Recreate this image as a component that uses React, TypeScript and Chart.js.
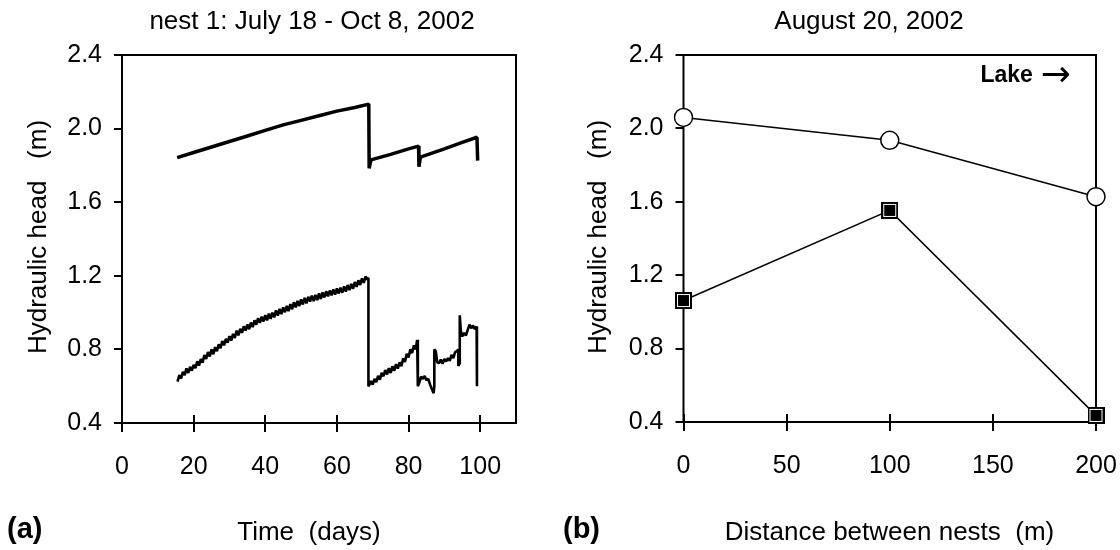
import React, { useEffect, useRef } from "react";
import { Chart, registerables } from "chart.js";

Chart.register(...registerables);

// ---------- Panel (a): nest 1 time series ----------
const xTicksA = [0, 20, 40, 60, 80, 100];
const yTicks = [0.4, 0.8, 1.2, 1.6, 2.0, 2.4];
const yTickLabels = ["0.4", "0.8", "1.2", "1.6", "2.0", "2.4"];

const upperDays = [15.4, 20, 25, 30, 35, 40, 45, 50, 55, 60, 65, 68.9, 69.0, 69.5, 75, 80, 82.8, 82.9, 83.3, 90, 95, 99.1, 99.3];
const upperHead = [1.842, 1.87, 1.9, 1.93, 1.96, 1.99, 2.02, 2.045, 2.07, 2.095, 2.115, 2.133, 1.784, 1.83, 1.86, 1.89, 1.905, 1.793, 1.845, 1.89, 1.925, 1.953, 1.826];

const lowerDays = [
  15.5, 16, 16.5, 17, 17.5, 18, 18.5, 19, 19.5, 20, 20.5, 21, 21.5, 22, 22.5, 23, 23.5, 24, 24.5, 25,
  25.5, 26, 26.5, 27, 27.5, 28, 28.5, 29, 29.5, 30, 30.5, 31, 31.5, 32, 32.5, 33, 33.5, 34, 34.5, 35,
  35.5, 36, 36.5, 37, 37.5, 38, 38.5, 39, 39.5, 40, 40.5, 41, 41.5, 42, 42.5, 43, 43.5, 44, 44.5, 45,
  45.5, 46, 46.5, 47, 47.5, 48, 48.5, 49, 49.5, 50, 50.5, 51, 51.5, 52, 52.5, 53, 53.5, 54, 54.5, 55,
  55.5, 56, 56.5, 57, 57.5, 58, 58.5, 59, 59.5, 60, 60.5, 61, 61.5, 62, 62.5, 63, 63.5, 64, 64.5, 65,
  65.5, 66, 66.5, 67, 67.5, 68, 68.5, 68.8, 68.8,
  69, 69.5, 70, 70.5, 71, 71.5, 72, 72.5, 73, 73.5, 74, 74.5, 75, 75.5, 76, 76.5, 77, 77.5, 78, 78.5,
  79, 79.5, 80, 80.5, 81, 81.5, 82, 82.4, 82.6, 82.6,
  83, 83.5, 84, 84.5, 85, 85.5, 86, 86.5, 87, 87.2, 87.2, 87.6, 88, 88.5, 89, 89.5, 90, 90.5, 91, 91.5,
  92, 92.5, 93, 93.5, 93.9, 93.9, 94.2, 94.3, 94.6, 95, 95.5, 96, 96.5, 97, 97.5, 98, 98.5, 99, 99.1,
];
const lowerHead = [
  0.625, 0.66, 0.642, 0.678, 0.66, 0.697, 0.672, 0.705, 0.684, 0.716, 0.698, 0.735, 0.712, 0.748, 0.728, 0.77, 0.748, 0.786, 0.762, 0.8,
  0.774, 0.812, 0.79, 0.828, 0.806, 0.846, 0.822, 0.858, 0.836, 0.872, 0.848, 0.884, 0.862, 0.902, 0.876, 0.912, 0.89, 0.926, 0.902, 0.935,
  0.91, 0.946, 0.921, 0.958, 0.934, 0.97, 0.944, 0.978, 0.952, 0.986, 0.958, 0.994, 0.966, 1.0, 0.974, 1.012, 0.984, 1.02, 0.992, 1.028,
  1.002, 1.036, 1.008, 1.046, 1.018, 1.056, 1.028, 1.064, 1.036, 1.072, 1.044, 1.08, 1.05, 1.086, 1.06, 1.092, 1.062, 1.096, 1.068, 1.104,
  1.074, 1.11, 1.082, 1.116, 1.088, 1.12, 1.094, 1.126, 1.098, 1.132, 1.104, 1.136, 1.108, 1.142, 1.114, 1.15, 1.122, 1.156, 1.13, 1.166,
  1.14, 1.176, 1.15, 1.186, 1.162, 1.196, 1.18, 1.19, 0.6,
  0.605, 0.628, 0.608, 0.64, 0.622, 0.656, 0.636, 0.672, 0.654, 0.688, 0.664, 0.698, 0.672, 0.708, 0.684, 0.72, 0.696, 0.73, 0.708, 0.752,
  0.732, 0.776, 0.756, 0.8, 0.78, 0.822, 0.8, 0.852, 0.852, 0.6,
  0.62, 0.652, 0.64, 0.655, 0.632, 0.64, 0.61, 0.585, 0.562, 0.6, 0.8, 0.79, 0.73, 0.725, 0.745, 0.722, 0.748, 0.735, 0.752, 0.738,
  0.77, 0.752, 0.785, 0.79, 0.8, 0.71, 0.72, 0.985, 0.9, 0.87, 0.89, 0.875, 0.905, 0.935, 0.915, 0.93, 0.91, 0.925, 0.6,
];

// ---------- Panel (b): August 20, 2002 ----------
const xTicksB = [0, 50, 100, 150, 200];
const distances = [0, 100, 200];
const shallowHead = [2.06, 1.935, 1.628];
const deepHead = [1.062, 1.553, 0.436];

const FONT = "'Liberation Sans', Arial, sans-serif";
const TICK_SIZE = 25;

const frameTextPlugin = {
  id: "frameText",
  beforeDatasetsDraw(chart: any) {
    const { ctx, chartArea: a } = chart;
    ctx.save();
    ctx.strokeStyle = "#000";
    ctx.lineWidth = 2;
    ctx.strokeRect(a.left, a.top, a.right - a.left, a.bottom - a.top);
    const xs = chart.scales.x;
    xs.ticks.forEach((t: any) => {
      const px = Math.round(xs.getPixelForValue(t.value));
      ctx.beginPath();
      ctx.moveTo(px, a.bottom);
      ctx.lineTo(px, a.bottom - 8);
      ctx.stroke();
    });
    ctx.restore();
  },
  afterDraw(chart: any, _args: any, opts: any) {
    const { ctx } = chart;
    ctx.save();
    ctx.fillStyle = "#000";
    ctx.textBaseline = "middle";
    ctx.font = `${opts.size}px ${FONT}`;
    ctx.textAlign = "center";
    ctx.fillText(opts.title, opts.titleX, opts.titleY);
    ctx.fillText(opts.xTitle, opts.xTitleX, opts.xTitleY);
    ctx.save();
    ctx.translate(opts.yTitleX, opts.yTitleY);
    ctx.rotate(-Math.PI / 2);
    ctx.fillText(opts.yTitle, 0, 0);
    ctx.restore();
    ctx.font = `bold 29px ${FONT}`;
    ctx.textAlign = "left";
    ctx.fillText(opts.panel, opts.panelX, opts.panelY);
    if (opts.note) {
      ctx.font = `36px 'DejaVu Sans', sans-serif`;
      ctx.textAlign = "right";
      ctx.fillText(opts.noteArrow, opts.noteX, opts.noteY + 1);
      const aw = ctx.measureText(opts.noteArrow).width;
      ctx.font = `bold 23px ${FONT}`;
      ctx.fillText(opts.note, opts.noteX - aw - 8, opts.noteY);
    }
    ctx.restore();
  },
};

function makeYScale(width: number) {
  return {
    type: "linear",
    min: 0.4,
    max: 2.4,
    afterBuildTicks: (s: any) => {
      s.ticks = yTicks.map((v) => ({ value: v }));
    },
    afterFit: (s: any) => {
      s.width = width;
      s.paddingTop = 0;
      s.paddingBottom = 0;
    },
    ticks: {
      color: "#000",
      font: { family: FONT, size: TICK_SIZE },
      padding: 12,
      callback: (_v: any, i: number) => yTickLabels[i],
    },
    grid: { drawOnChartArea: false, drawTicks: true, tickLength: 8, color: "#000", lineWidth: 2 },
    border: { display: false },
  };
}

function makeXScale(max: number, ticks: number[], height: number) {
  return {
    type: "linear",
    min: 0,
    max,
    afterBuildTicks: (s: any) => {
      s.ticks = ticks.map((v) => ({ value: v }));
    },
    afterFit: (s: any) => {
      s.height = height;
      s.paddingLeft = 0;
      s.paddingRight = 0;
    },
    ticks: {
      color: "#000",
      font: { family: FONT, size: TICK_SIZE },
      padding: 20,
      maxRotation: 0,
      autoSkip: false,
      callback: (v: any) => String(v),
    },
    grid: { drawOnChartArea: false, drawTicks: true, tickLength: 9, color: "#000", lineWidth: 2 },
    border: { display: false },
  };
}

function makeSquare(): HTMLCanvasElement {
  const c = document.createElement("canvas");
  c.width = 17;
  c.height = 17;
  const g = c.getContext("2d")!;
  g.fillStyle = "#000";
  g.fillRect(0, 0, 17, 17);
  g.strokeStyle = "#fff";
  g.lineWidth = 1;
  g.strokeRect(2.5, 2.5, 12, 12);
  return c;
}

export default function App() {
  const leftRef = useRef<HTMLCanvasElement>(null);
  const rightRef = useRef<HTMLCanvasElement>(null);

  useEffect(() => {
    const left = new Chart(leftRef.current!, {
      type: "line",
      data: {
        datasets: [
          {
            label: "upper",
            data: upperDays.map((d, i) => ({ x: d, y: upperHead[i] })),
            borderColor: "#000",
            borderWidth: 3.5,
            borderJoinStyle: "bevel",
            pointRadius: 0,
            tension: 0,
            clip: false,
          },
          {
            label: "lower",
            data: lowerDays.map((d, i) => ({ x: d, y: lowerHead[i] })),
            borderColor: "#000",
            borderWidth: 2.6,
            borderJoinStyle: "bevel",
            pointRadius: 0,
            tension: 0,
            clip: false,
          },
        ],
      },
      options: {
        responsive: false,
        animation: false,
        layout: { padding: { left: 0, top: 55, right: 44, bottom: 0 } },
        scales: { x: makeXScale(110, xTicksA, 127), y: makeYScale(122) },
        plugins: {
          legend: { display: false },
          tooltip: { enabled: false },
          frameText: {
            size: 26,
            title: "nest 1: July 18 - Oct 8, 2002",
            titleX: 312,
            titleY: 22,
            xTitle: "Time  (days)",
            xTitleX: 309,
            xTitleY: 533,
            yTitle: "Hydraulic head   (m)",
            yTitleX: 39,
            yTitleY: 237,
            panel: "(a)",
            panelX: 7,
            panelY: 530,
          },
        },
      } as any,
      plugins: [frameTextPlugin],
    } as any);

    const square = makeSquare();
    const right = new Chart(rightRef.current!, {
      type: "line",
      data: {
        datasets: [
          {
            label: "deep",
            data: distances.map((d, i) => ({ x: d, y: deepHead[i] })),
            borderColor: "#000",
            borderWidth: 1.5,
            pointStyle: square,
            pointRadius: 9,
            tension: 0,
            clip: false,
          },
          {
            label: "shallow",
            data: distances.map((d, i) => ({ x: d, y: shallowHead[i] })),
            borderColor: "#000",
            borderWidth: 1.5,
            pointStyle: "circle",
            pointRadius: 9,
            pointBackgroundColor: "#fff",
            pointBorderColor: "#000",
            pointBorderWidth: 1.5,
            tension: 0,
            clip: false,
          },
        ],
      },
      options: {
        responsive: false,
        animation: false,
        layout: { padding: { left: 0, top: 55, right: 24, bottom: 0 } },
        scales: { x: makeXScale(200, xTicksB, 128), y: makeYScale(123.5) },
        plugins: {
          legend: { display: false },
          tooltip: { enabled: false },
          frameText: {
            size: 26,
            title: "August 20, 2002",
            titleX: 309,
            titleY: 22,
            xTitle: "Distance between nests  (m)",
            xTitleX: 329.5,
            xTitleY: 533,
            yTitle: "Hydraulic head   (m)",
            yTitleX: 39,
            yTitleY: 237,
            panel: "(b)",
            panelX: 3,
            panelY: 530,
            note: "Lake",
            noteArrow: "\u2192",
            noteX: 511,
            noteY: 76,
          },
        },
      } as any,
      plugins: [frameTextPlugin],
    } as any);

    return () => {
      left.destroy();
      right.destroy();
    };
  }, []);

  return (
    <div style={{ position: "absolute", left: 0, top: 0, width: 1120, height: 550, background: "#fff" }}>
      <canvas ref={leftRef} width={560} height={550} style={{ position: "absolute", left: 0, top: 0 }} />
      <canvas ref={rightRef} width={560} height={550} style={{ position: "absolute", left: 560, top: 0 }} />
    </div>
  );
}
